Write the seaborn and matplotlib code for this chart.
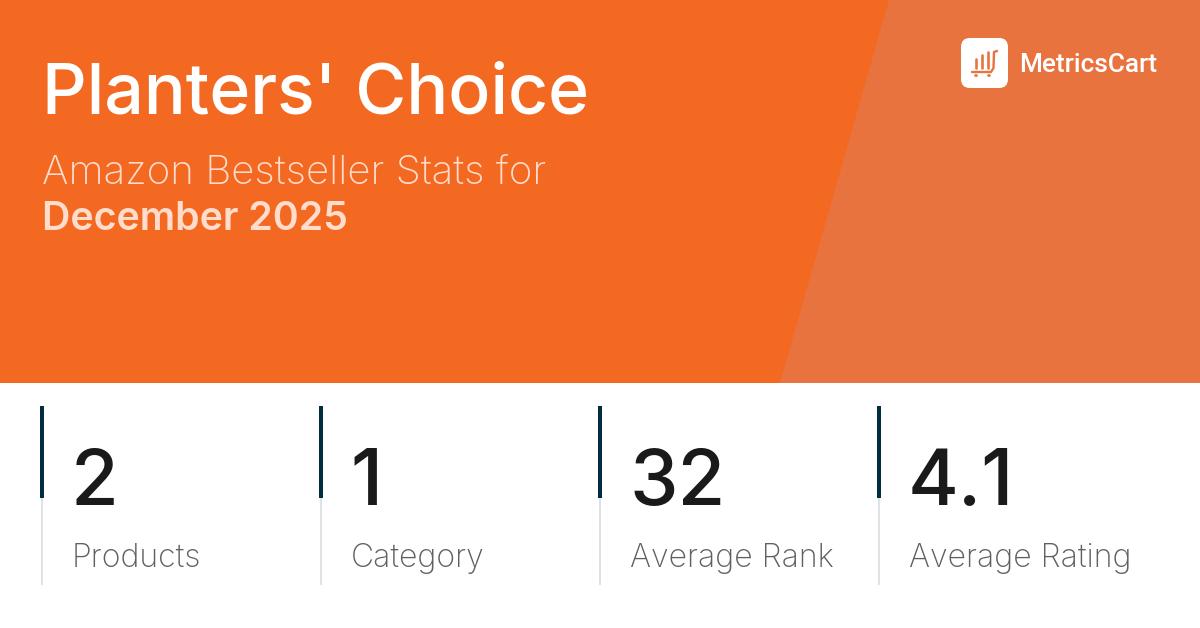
import seaborn as sns
import matplotlib
matplotlib.use("Agg")
import matplotlib.pyplot as plt
from matplotlib.patches import Polygon, Rectangle, FancyBboxPatch

title = "Planters' Choice"
subtitle = "Amazon Bestseller Stats for"
period = "December 2025"
brand = "MetricsCart"
stat_values = ["2", "1", "32", "4.1"]
stat_labels = ["Products", "Category", "Average Rank", "Average Rating"]
stat_left = [40, 319, 598, 877]
bar_heights = [9, 13, 16]

sns.set_theme(style="white")
plt.rcParams["font.family"] = ["Inter", "DejaVu Sans"]

fig = plt.figure(figsize=(12, 6.28), dpi=100, facecolor="white")
ax = fig.add_axes([0, 0, 1, 1])
ax.set_xlim(0, 1200)
ax.set_ylim(628, 0)
ax.axis("off")

ORANGE = "#F46922"
PANEL = "#E8733E"
NAVY = "#022C3F"
px = 0.72

ax.add_patch(Rectangle((0, 0), 1200, 383, fc=ORANGE, ec="none"))
ax.add_patch(Polygon([(889, 0), (1200, 0), (1200, 383), (780, 383)], fc=PANEL, ec="none"))

ax.text(42, 113, title, color="white", fontsize=69.7 * px, fontweight="medium", va="baseline", ha="left")
ax.text(42, 184, subtitle, color="#FFDCCB", fontsize=40.3 * px, fontweight="light", va="baseline", ha="left")
ax.text(42, 230, period, color="#FFDCCB", fontsize=39.3 * px, fontweight="semibold", va="baseline", ha="left")

# logo
ax.add_patch(FancyBboxPatch((961, 38), 47, 50, boxstyle="round,pad=0,rounding_size=9", fc="white", ec="none"))
for i, h in enumerate(bar_heights):
    ax.plot([975.5 + i * 6.2] * 2, [68, 68 - h], color=PANEL, lw=1.9, solid_capstyle="round")
ax.plot([972, 991, 993.5, 994, 997], [72, 72, 68, 52, 51], color=PANEL, lw=1.7, solid_capstyle="round",
        solid_joinstyle="round")
ax.plot([975, 975.5], [75, 75], color=PANEL, lw=2, solid_capstyle="round")
ax.plot([988, 988.5], [75, 75], color=PANEL, lw=2, solid_capstyle="round")
ax.text(1019, 72, brand, color="white", fontsize=26.3 * px, fontweight="medium", family=["Roboto", "DejaVu Sans"],
        va="baseline", ha="left")

for x, v, l in zip(stat_left, stat_values, stat_labels):
    ax.plot([x + 2, x + 2], [498, 585], color="#D3DADD", lw=1.1, solid_capstyle="butt")
    ax.add_patch(Rectangle((x, 406), 4, 92, fc=NAVY, ec="none"))
    ax.text(x + 31, 505, v, color="#1A1A1A", fontsize=77.5 * px, fontweight="medium", va="baseline", ha="left")
    ax.text(x + 32, 567, l, color="#606060", fontsize=32 * px, fontweight="light", va="baseline", ha="left")

fig.savefig("out.png", dpi=100, facecolor="white")
